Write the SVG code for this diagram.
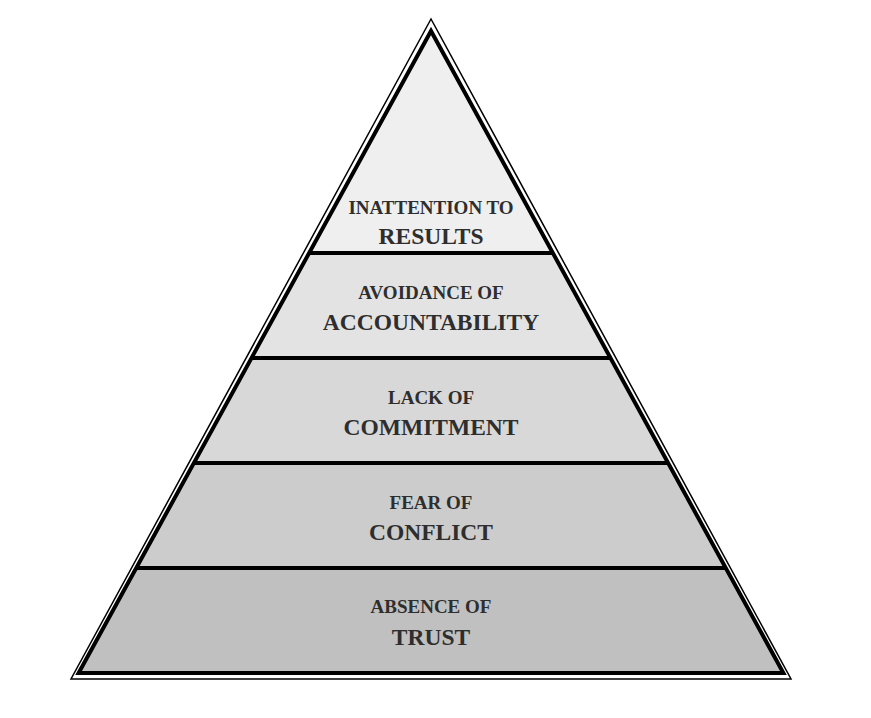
<svg xmlns="http://www.w3.org/2000/svg" width="871" height="718" viewBox="0 0 871 718">
<style>
.band{stroke:none}
.div{stroke:#000;stroke-width:4;fill:none}
.t{font-family:"Liberation Serif","Times New Roman",serif;font-weight:bold;fill:#2e2e2e;text-anchor:middle}
.s{font-size:19px}
.l{font-size:23.5px}
</style>
<rect width="871" height="718" fill="#fff"/>
<polygon id="outer" points="431,19 71,679 791,679" fill="#fff" stroke="#000" stroke-width="1.5"/>
<g id="results">
<polygon class="band" points="431,31 308.8,253 553.2,253" fill="#efefef"/>
<text class="t s" x="431" y="214">INATTENTION TO</text>
<text class="t l" x="431" y="244">RESULTS</text>
</g>
<g id="accountability">
<polygon class="band" points="308.8,253 553.2,253 610.7,358 251.3,358" fill="#e3e3e3"/>
<text class="t s" x="431" y="299">AVOIDANCE OF</text>
<text class="t l" x="431" y="330">ACCOUNTABILITY</text>
</g>
<g id="commitment">
<polygon class="band" points="251.3,358 610.7,358 668.3,463 193.7,463" fill="#d8d8d8"/>
<text class="t s" x="431" y="404">LACK OF</text>
<text class="t l" x="431" y="435">COMMITMENT</text>
</g>
<g id="conflict">
<polygon class="band" points="193.7,463 668.3,463 725.8,568 136.2,568" fill="#cccccc"/>
<text class="t s" x="431" y="509">FEAR OF</text>
<text class="t l" x="431" y="540">CONFLICT</text>
</g>
<g id="trust">
<polygon class="band" points="136.2,568 725.8,568 783.4,673 78.6,673" fill="#c0c0c0"/>
<text class="t s" x="431" y="613">ABSENCE OF</text>
<text class="t l" x="431" y="645">TRUST</text>
</g>
<g id="connectors">
<polygon points="431,31 78.6,673 783.4,673" fill="none" stroke="#000" stroke-width="4"/>
<line class="div" x1="308.8" y1="253" x2="553.2" y2="253"/>
<line class="div" x1="251.3" y1="358" x2="610.7" y2="358"/>
<line class="div" x1="193.7" y1="463" x2="668.3" y2="463"/>
<line class="div" x1="136.2" y1="568" x2="725.8" y2="568"/>
</g>
</svg>
